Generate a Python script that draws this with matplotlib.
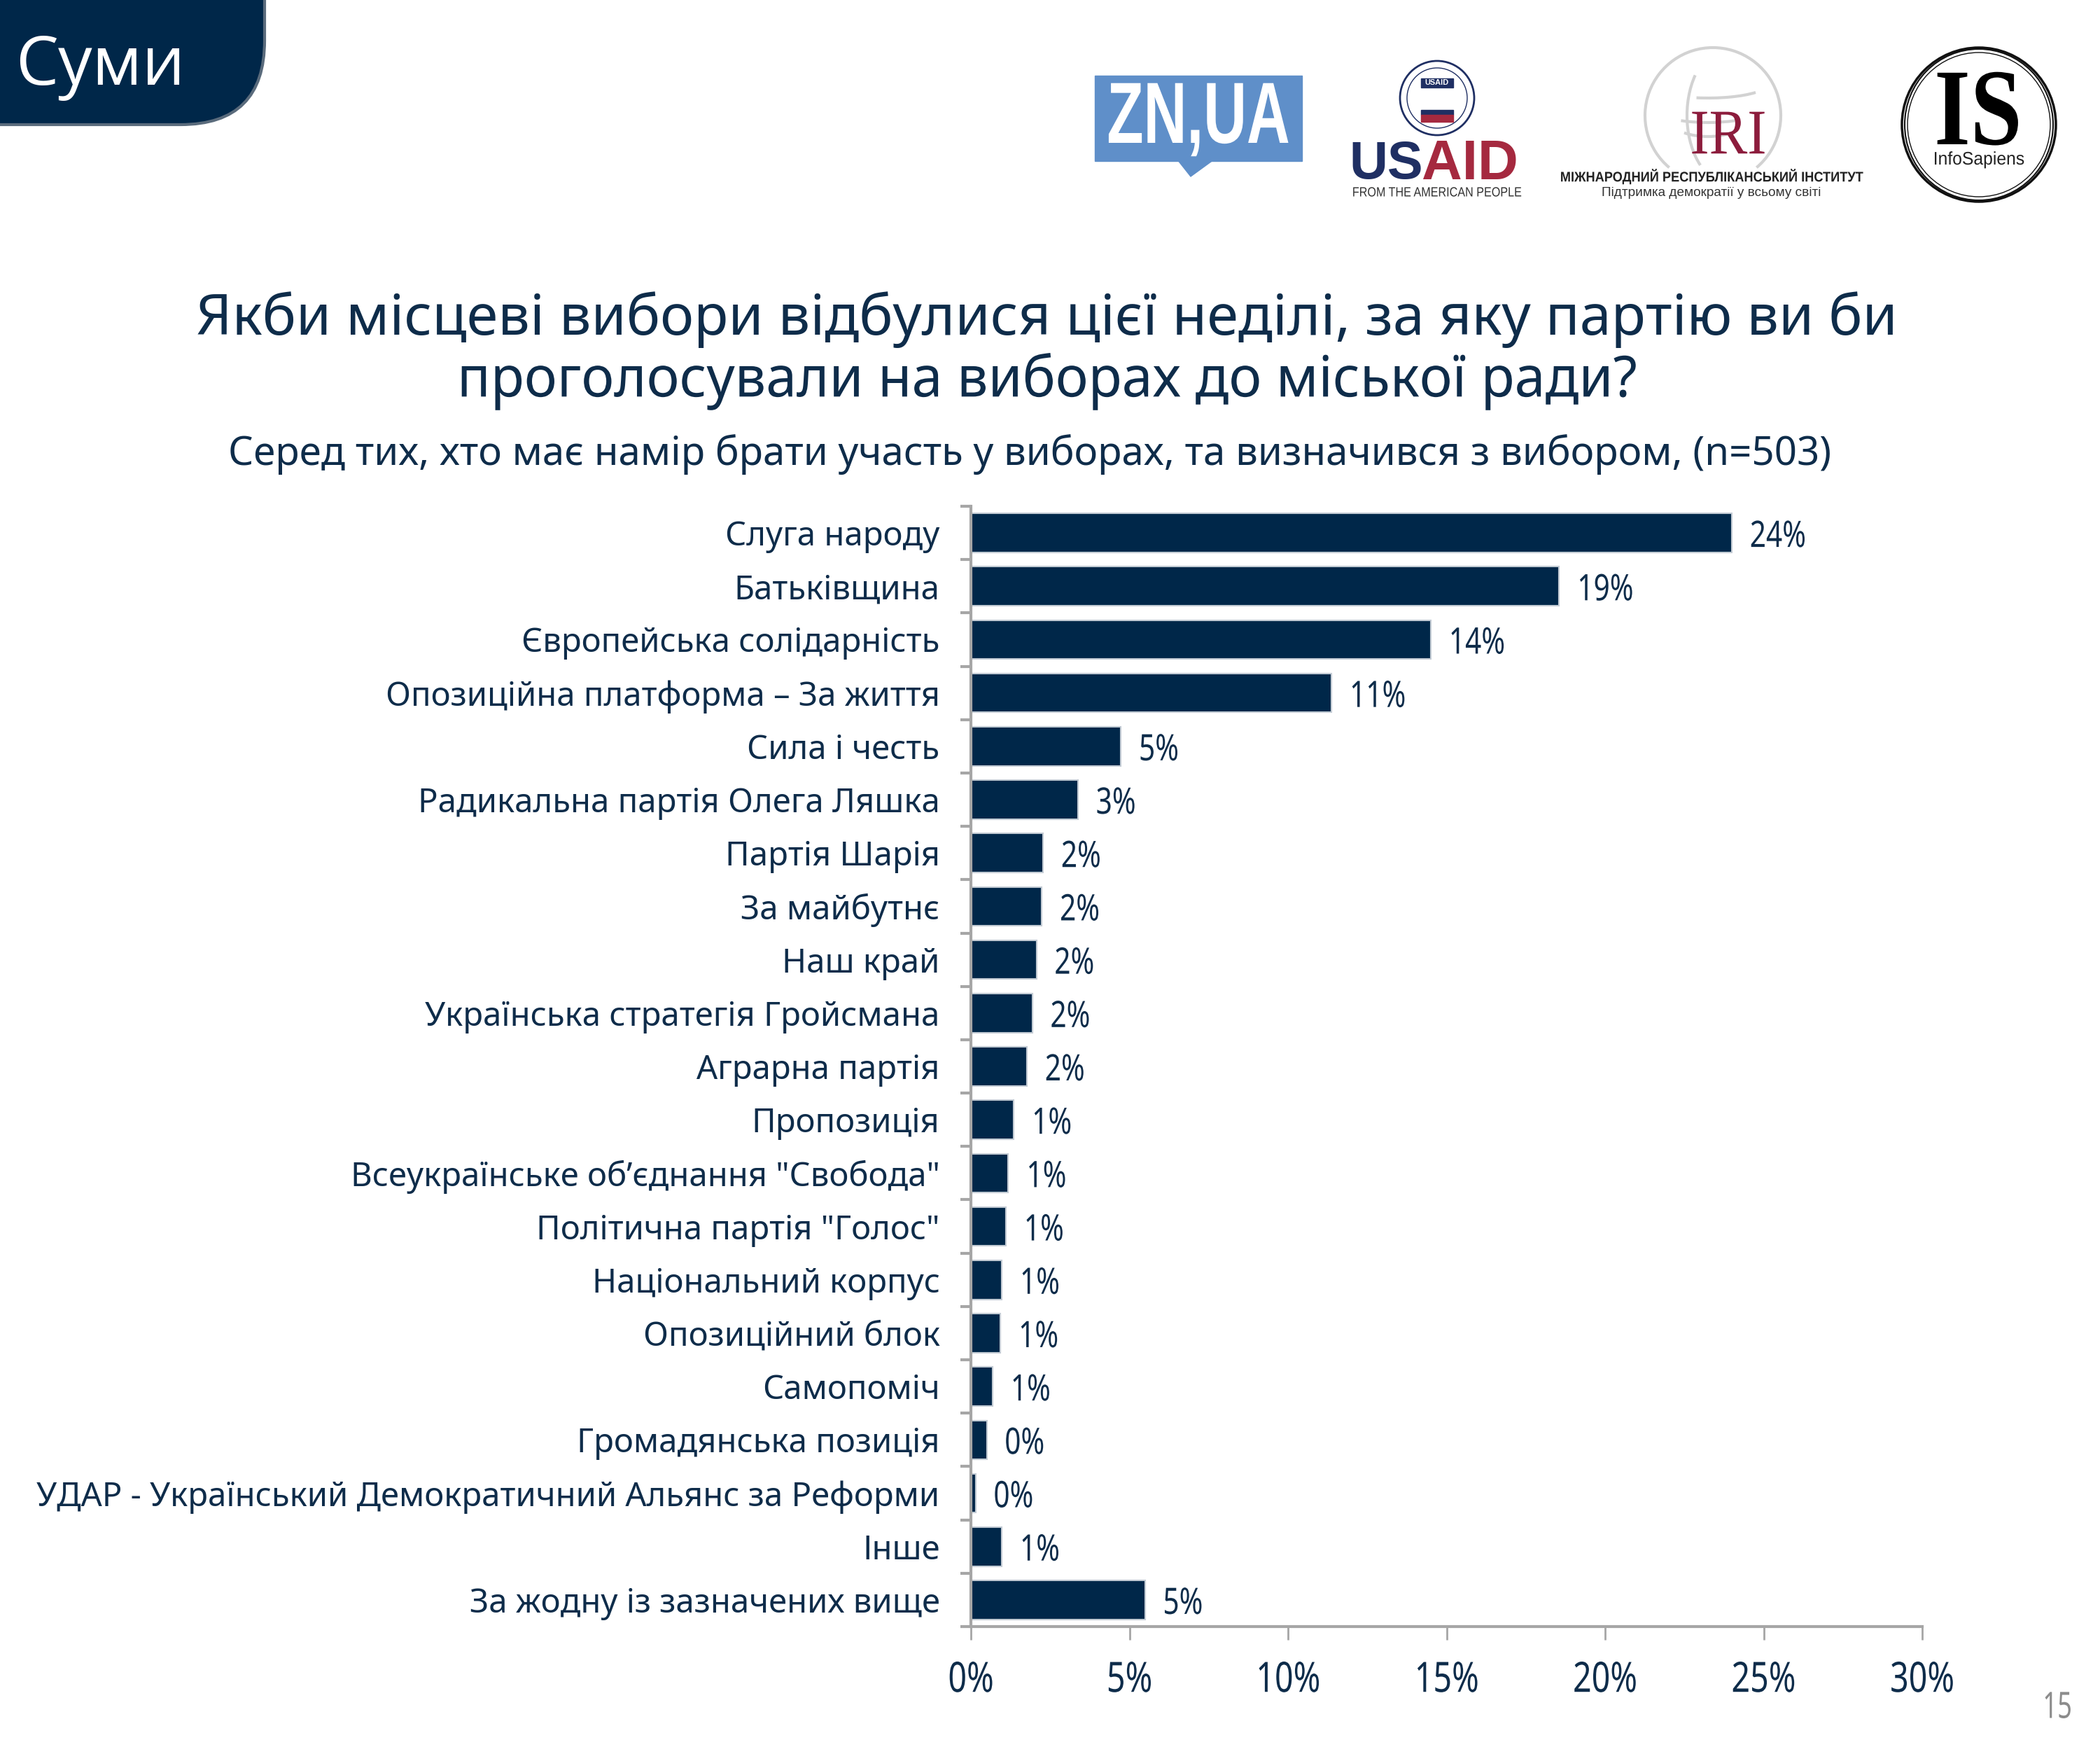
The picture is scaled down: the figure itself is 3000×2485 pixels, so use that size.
import matplotlib
matplotlib.use("Agg")
import matplotlib.pyplot as plt
import matplotlib.patheffects as pe
from matplotlib.patches import Ellipse, FancyBboxPatch, Polygon, Rectangle, Arc
from matplotlib.transforms import Affine2D

# data
parties = [
    "Слуга народу", "Батьківщина", "Європейська солідарність",
    "Опозиційна платформа – За життя", "Сила і честь",
    "Радикальна партія Олега Ляшка", "Партія Шарія", "За майбутнє", "Наш край",
    "Українська стратегія Гройсмана", "Аграрна партія", "Пропозиція",
    "Всеукраїнське об’єднання \"Свобода\"", "Політична партія \"Голос\"",
    "Національний корпус", "Опозиційний блок", "Самопоміч",
    "Громадянська позиція", "УДАР - Український Демократичний Альянс за Реформи",
    "Інше", "За жодну із зазначених вище",
]
shares = [24.0, 18.55, 14.5, 11.37, 4.73, 3.38, 2.28, 2.24, 2.07, 1.94, 1.77,
          1.35, 1.18, 1.1, 0.97, 0.93, 0.68, 0.5, 0.15, 0.97, 5.49]
share_labels = ["24%", "19%", "14%", "11%", "5%", "3%", "2%", "2%", "2%", "2%", "2%",
                "1%", "1%", "1%", "1%", "1%", "1%", "0%", "0%", "1%", "5%"]
x_ticks = [0, 5, 10, 15, 20, 25, 30]
x_tick_labels = ["0%", "5%", "10%", "15%", "20%", "25%", "30%"]

W, H = 3000, 2485
navy = "#002749"
text_col = "#0e2c4a"
sans = ["Liberation Sans", "DejaVu Sans"]
serif = ["Liberation Serif", "DejaVu Serif"]
plt.rcParams["font.family"] = ["Noto Sans", "DejaVu Sans"]


class Squeeze(pe.AbstractPathEffect):
    # no condensed font installed, so squash the glyphs sideways when drawing
    def __init__(self, sx, anchor="center"):
        super().__init__()
        self.sx = sx
        self.anchor = anchor

    def draw_path(self, renderer, gc, tpath, affine, rgbFace=None):
        bb = tpath.get_extents(affine)
        x = bb.x0 if self.anchor == "left" else (bb.x0 + bb.x1) / 2
        t = affine + Affine2D().translate(-x, 0).scale(self.sx, 1).translate(x, 0)
        renderer.draw_path(gc, tpath, t, rgbFace)


fig = plt.figure(figsize=(W / 100, H / 100), dpi=100, facecolor="white")

# main chart
ax = fig.add_axes([1387 / W, 1 - 2323 / H, (2746 - 1387) / W, (2323 - 723) / H])
ypos = list(range(len(parties)))
bars = ax.barh(ypos, shares, height=0.73, color=navy, edgecolor="#c3cbd4", linewidth=1.5)
ax.set_xlim(0, 30)
ax.set_ylim(len(parties) - 0.5, -0.5)
ax.set_xticks(x_ticks)
ax.set_xticklabels(x_tick_labels, fontsize=43, color=text_col)
for lab in ax.get_xticklabels():
    lab.set_path_effects([Squeeze(0.78)])
ax.set_yticks(ypos)
ax.set_yticklabels(parties, fontsize=34, color=text_col)
ax.set_yticks([y - 0.5 for y in range(len(parties) + 1)], minor=True)
ax.tick_params(axis="x", length=14, width=2, color="#a6a6a6", pad=20)
ax.tick_params(axis="y", which="major", length=0, pad=32)
ax.tick_params(axis="y", which="minor", length=11, width=3, color="#a6a6a6")
for side in ["top", "right"]:
    ax.spines[side].set_visible(False)
for side in ["left", "bottom"]:
    ax.spines[side].set_color("#a6a6a6")
    ax.spines[side].set_linewidth(3)
vals = ax.bar_label(bars, labels=share_labels, padding=18, fontsize=37.5, color=text_col)
for v in vals:
    v.set_va("center_baseline")
    v.set_path_effects([Squeeze(0.78, "left")])

# overlay in pixel coords for the slide furniture
ov = fig.add_axes([0, 0, 1, 1], facecolor="none")
ov.set_xlim(0, W)
ov.set_ylim(H, 0)
ov.axis("off")


def txt(x, y, s, px, sx=None, **kw):
    kw.setdefault("ha", "center")
    kw.setdefault("va", "center")
    t = ov.text(x, y, s, fontsize=px * 0.72, **kw)
    if sx:
        t.set_path_effects([Squeeze(sx, "left" if kw["ha"] == "left" else "center")])
    return t


# titles
txt(1495, 457, "Якби місцеві вибори відбулися цієї неділі, за яку партію ви би", 81, color=text_col)
txt(1495, 545, "проголосували на виборах до міської ради?", 81, sx=0.975, color=text_col)
txt(1471, 649, "Серед тих, хто має намір брати участь у виборах, та визначився з вибором, (n=503)", 56.5, color=text_col)
txt(2939, 2440, "15", 52, sx=0.7, color="#8c8c8c")

# city tab
ov.add_patch(FancyBboxPatch((-300, -300), 678, 478, boxstyle="round,pad=0,rounding_size=120",
                            facecolor=navy, edgecolor="#5a6b7c", linewidth=3))
txt(22, 95, "Суми", 97, color="white", ha="left", family=["Open Sans", "DejaVu Sans"])

# ZN,UA logo
ov.add_patch(Rectangle((1564, 108), 296, 122, color="#5f8fc9"))
ov.add_patch(Polygon([(1682, 228), (1734, 228), (1701, 252)], color="#5f8fc9"))
txt(1712, 172, "ZN,UA", 124, sx=0.69, color="white", family=sans, weight="bold")

# USAID logo
ov.add_patch(Ellipse((2053, 140), 106, 106, fill=False, ec="#1f2f63", lw=2))
ov.add_patch(Ellipse((2053, 140), 86, 86, fill=False, ec="#1f2f63", lw=1))
ov.add_patch(Rectangle((2030, 112), 46, 13, color="#1f2f63"))
ov.add_patch(Rectangle((2030, 157), 46, 7, color="#1f2f63"))
ov.add_patch(Rectangle((2030, 164), 46, 10, color="#a5293f"))
txt(2053, 118, "USAID", 11, color="white", weight="bold", family=sans)
txt(2033, 236, "US", 76, color="#1f2f63", weight="bold", ha="right", family=sans)
txt(2031, 236, "AID", 80, color="#a5293f", weight="bold", ha="left", family=sans)
txt(2052, 276, "FROM THE AMERICAN PEOPLE", 19, sx=0.85, color="#333333", family=sans)

# IRI logo
ov.add_patch(Arc((2447, 165), 194, 194, theta1=130, theta2=50, ec="#d2d2d2", lw=3))
ov.add_patch(Arc((2470, 165), 120, 194, theta1=120, theta2=230, ec="#d2d2d2", lw=3))
ov.add_patch(Arc((2440, 120), 170, 40, theta1=10, theta2=130, ec="#d2d2d2", lw=3))
ov.add_patch(Arc((2440, 150), 170, 50, theta1=30, theta2=150, ec="#d2d2d2", lw=3))
ov.add_patch(Arc((2440, 170), 110, 50, theta1=30, theta2=150, ec="#d2d2d2", lw=3))
txt(2469, 197, "IRI", 91, sx=0.9, color="#8c1c3c", family=serif)
txt(2446, 252, "МІЖНАРОДНИЙ РЕСПУБЛІКАНСЬКИЙ ІНСТИТУТ", 20, sx=0.91, color="#222222", weight="bold", family=sans)
txt(2445, 275, "Підтримка демократії у всьому світі", 19, color="#333333", family=sans)

# InfoSapiens logo
for dw, dh, lw in [(220, 220, 2.5), (212, 216, 1.5), (204, 206, 1)]:
    ov.add_patch(Ellipse((2827, 178), dw, dh, fill=False, ec="#111111", lw=lw))
txt(2826, 168, "IS", 156, sx=0.85, color="black", weight="bold", family=serif)
txt(2827, 228, "InfoSapiens", 26, sx=0.95, color="#222222", family=sans)

fig.savefig("out.png", dpi=100)
